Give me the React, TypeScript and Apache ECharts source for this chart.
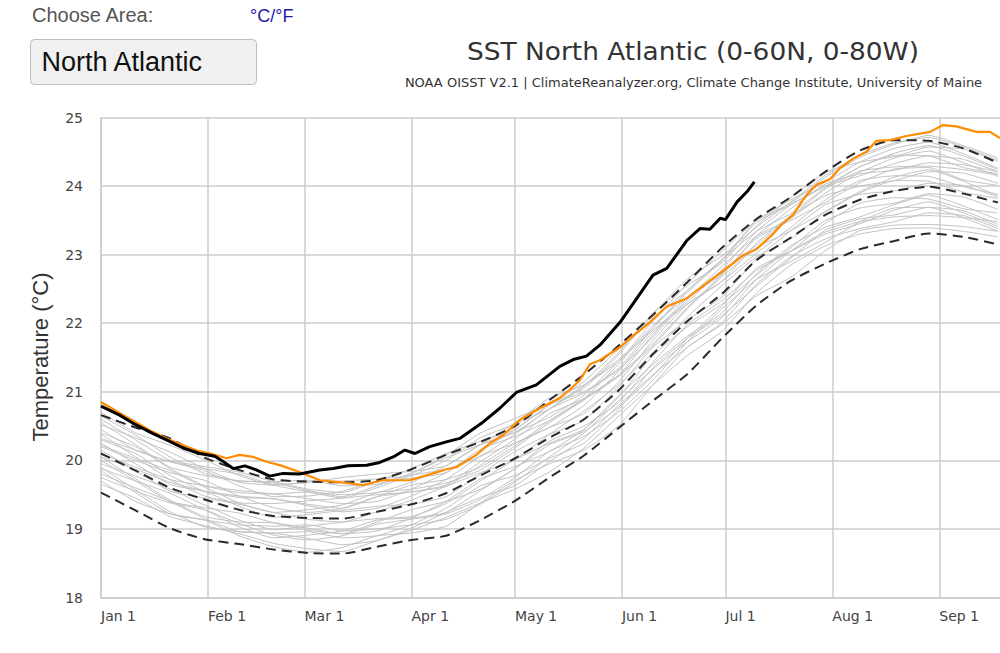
import React, { useEffect, useRef } from "react";
import * as echarts from "echarts";

// ---- axis ticks (day of year, 0 = Jan 1) ----
const monthDays = [0, 31, 59, 90, 120, 151, 181, 212, 243];
const monthLabels = ["Jan 1", "Feb 1", "Mar 1", "Apr 1", "May 1", "Jun 1", "Jul 1", "Aug 1", "Sep 1"];

// ---- climatology (sampled every 10 days) ----
const sampleDays = [0, 10, 20, 30, 40, 50, 60, 70, 80, 90, 100, 110, 120, 130, 140, 150, 160, 170, 180, 190, 200, 210, 220, 230, 240, 250, 260];
const meanSST = [20.10, 19.85, 19.60, 19.43, 19.28, 19.19, 19.16, 19.15, 19.25, 19.36, 19.52, 19.78, 20.03, 20.33, 20.60, 21.02, 21.55, 22.03, 22.43, 22.92, 23.25, 23.58, 23.80, 23.93, 23.99, 23.89, 23.76];
const plus2sd = [20.66, 20.48, 20.32, 20.04, 19.86, 19.72, 19.69, 19.68, 19.71, 19.87, 20.08, 20.27, 20.50, 20.88, 21.25, 21.67, 22.12, 22.60, 23.10, 23.52, 23.84, 24.21, 24.52, 24.67, 24.66, 24.55, 24.34];
const minus2sd = [19.53, 19.27, 19.01, 18.85, 18.78, 18.70, 18.65, 18.64, 18.74, 18.84, 18.90, 19.13, 19.41, 19.75, 20.07, 20.47, 20.87, 21.26, 21.78, 22.26, 22.62, 22.87, 23.08, 23.20, 23.31, 23.26, 23.15];

// ---- past years (grey), sampled every 10 days ----
const pastA = [19.65, 19.45, 19.18, 19.05, 18.93, 18.79, 18.71, 18.67, 18.83, 18.98, 19.17, 19.38, 19.58, 19.83, 20.18, 20.64, 21.10, 21.53, 21.88, 22.44, 22.85, 23.13, 23.30, 23.38, 23.39, 23.34, 23.26];
const pastB = [19.80, 19.60, 19.40, 19.15, 18.96, 18.94, 18.96, 18.87, 18.90, 19.06, 19.30, 19.63, 19.78, 20.03, 20.25, 20.74, 21.35, 21.78, 22.11, 22.54, 22.95, 23.36, 23.52, 23.58, 23.69, 23.64, 23.44];
const pastC = [20.00, 19.70, 19.40, 19.31, 19.23, 19.09, 18.98, 18.93, 19.10, 19.28, 19.40, 19.58, 19.88, 20.28, 20.50, 20.84, 21.43, 21.98, 22.33, 22.77, 23.05, 23.46, 23.75, 23.83, 23.81, 23.67, 23.61];
const pastD = [20.15, 19.85, 19.55, 19.45, 19.36, 19.24, 19.14, 19.10, 19.25, 19.42, 19.62, 19.82, 20.01, 20.38, 20.72, 21.10, 21.57, 22.09, 22.55, 22.97, 23.23, 23.62, 23.90, 24.08, 24.07, 23.91, 23.82];
const pastE = [20.30, 20.10, 19.78, 19.55, 19.46, 19.44, 19.36, 19.30, 19.47, 19.64, 19.72, 19.90, 20.21, 20.58, 20.90, 21.24, 21.70, 22.23, 22.71, 23.24, 23.50, 23.76, 24.05, 24.25, 24.27, 24.09, 24.01];
const pastF = [20.45, 20.15, 19.98, 19.85, 19.63, 19.47, 19.48, 19.55, 19.70, 19.74, 19.82, 20.13, 20.45, 20.81, 21.00, 21.34, 21.93, 22.48, 22.93, 23.34, 23.60, 23.98, 24.28, 24.45, 24.44, 24.27, 24.18];
const pastG = [20.60, 20.30, 20.00, 19.91, 19.83, 19.69, 19.58, 19.53, 19.70, 19.88, 20.10, 20.28, 20.45, 20.81, 21.15, 21.62, 22.07, 22.48, 22.93, 23.50, 23.80, 24.06, 24.35, 24.55, 24.64, 24.47, 24.26];
const pastH = [19.90, 19.57, 19.25, 19.03, 18.96, 18.94, 18.86, 18.77, 18.83, 19.01, 19.24, 19.46, 19.63, 19.98, 20.32, 20.80, 21.25, 21.65, 22.01, 22.57, 22.97, 23.23, 23.38, 23.48, 23.61, 23.57, 23.38];
const pastI = [20.20, 20.00, 19.82, 19.71, 19.48, 19.31, 19.24, 19.30, 19.47, 19.54, 19.62, 19.93, 20.25, 20.48, 20.68, 21.14, 21.75, 22.28, 22.61, 23.02, 23.40, 23.80, 24.08, 24.15, 24.14, 23.99, 23.88];
const pastJ = [19.75, 19.55, 19.38, 19.28, 19.08, 18.91, 18.84, 18.90, 19.07, 19.14, 19.22, 19.43, 19.75, 20.13, 20.35, 20.70, 21.17, 21.73, 22.21, 22.64, 22.90, 23.18, 23.48, 23.68, 23.69, 23.54, 23.34];
const pastK = [20.38, 20.05, 19.72, 19.48, 19.38, 19.37, 19.41, 19.45, 19.50, 19.54, 19.64, 19.98, 20.31, 20.68, 20.90, 21.24, 21.83, 22.38, 22.73, 23.14, 23.55, 23.96, 24.22, 24.28, 24.29, 24.24, 24.16];
const pastL = [20.05, 19.87, 19.68, 19.55, 19.33, 19.17, 19.21, 19.27, 19.33, 19.36, 19.47, 19.80, 20.13, 20.38, 20.58, 21.07, 21.65, 22.05, 22.38, 22.94, 23.35, 23.73, 23.88, 23.93, 24.04, 24.01, 23.84];
const pastM = [20.52, 20.33, 20.12, 19.88, 19.68, 19.64, 19.68, 19.70, 19.73, 19.78, 20.00, 20.33, 20.53, 20.75, 21.08, 21.57, 22.15, 22.55, 22.88, 23.42, 23.83, 24.20, 24.35, 24.43, 24.57, 24.54, 24.36];
const pastN = [19.95, 19.77, 19.58, 19.35, 19.13, 18.99, 19.04, 19.10, 19.15, 19.18, 19.37, 19.70, 20.01, 20.25, 20.45, 20.92, 21.53, 21.95, 22.28, 22.70, 23.10, 23.50, 23.68, 23.75, 23.89, 23.84, 23.66];
const pastO = [20.25, 19.95, 19.65, 19.55, 19.48, 19.44, 19.34, 19.25, 19.30, 19.48, 19.72, 20.06, 20.25, 20.48, 20.80, 21.30, 21.87, 22.28, 22.61, 23.17, 23.57, 23.86, 24.00, 24.08, 24.21, 24.19, 24.04];
const pastP = [20.65, 20.37, 20.05, 19.81, 19.70, 19.69, 19.71, 19.63, 19.65, 19.81, 20.07, 20.40, 20.61, 20.83, 21.05, 21.54, 22.13, 22.65, 22.98, 23.40, 23.77, 24.16, 24.45, 24.63, 24.71, 24.57, 24.38];
const pastQ = [19.85, 19.53, 19.22, 19.13, 19.06, 19.04, 19.06, 18.97, 19.00, 19.06, 19.14, 19.36, 19.68, 20.05, 20.40, 20.87, 21.33, 21.73, 22.08, 22.64, 23.05, 23.33, 23.48, 23.55, 23.57, 23.54, 23.48];
const pastR = [20.10, 19.90, 19.72, 19.63, 19.56, 19.51, 19.44, 19.37, 19.40, 19.58, 19.82, 20.16, 20.35, 20.58, 20.90, 21.40, 21.97, 22.38, 22.71, 23.27, 23.67, 24.03, 24.18, 24.23, 24.34, 24.31, 24.21];
const pastS = [20.70, 20.40, 20.22, 20.01, 19.78, 19.64, 19.68, 19.75, 19.80, 19.84, 19.92, 20.23, 20.55, 20.91, 21.10, 21.44, 22.03, 22.58, 23.05, 23.50, 23.75, 24.13, 24.42, 24.61, 24.74, 24.59, 24.41];
const pastT = [19.70, 19.40, 19.22, 19.13, 18.90, 18.74, 18.66, 18.73, 18.90, 18.94, 19.04, 19.38, 19.71, 19.95, 20.15, 20.50, 21.10, 21.65, 21.98, 22.40, 22.67, 23.06, 23.35, 23.43, 23.44, 23.41, 23.34];
const pastU = [20.40, 20.20, 19.88, 19.63, 19.53, 19.51, 19.54, 19.50, 19.53, 19.68, 19.92, 20.23, 20.41, 20.63, 20.95, 21.44, 21.90, 22.31, 22.78, 23.34, 23.73, 24.00, 24.15, 24.33, 24.44, 24.39, 24.21];
const pastV = [20.05, 19.73, 19.42, 19.18, 19.10, 19.09, 19.01, 18.93, 18.97, 19.16, 19.40, 19.73, 19.91, 20.13, 20.45, 20.94, 21.40, 21.81, 22.15, 22.72, 23.13, 23.40, 23.55, 23.73, 23.87, 23.71, 23.51];
const pastW = [20.55, 20.23, 19.90, 19.78, 19.70, 19.67, 19.56, 19.47, 19.63, 19.81, 20.04, 20.23, 20.41, 20.75, 21.10, 21.47, 21.93, 22.45, 22.91, 23.47, 23.73, 24.00, 24.28, 24.48, 24.59, 24.44, 24.24];
const pastX = [20.22, 20.03, 19.85, 19.61, 19.38, 19.24, 19.28, 19.35, 19.53, 19.58, 19.67, 19.86, 20.18, 20.55, 20.88, 21.22, 21.67, 22.21, 22.68, 23.10, 23.35, 23.63, 23.92, 24.13, 24.24, 24.07, 23.86];
const pastY = [19.88, 19.70, 19.52, 19.28, 19.03, 18.87, 18.91, 18.97, 19.13, 19.16, 19.24, 19.56, 19.88, 20.23, 20.42, 20.77, 21.23, 21.78, 22.25, 22.80, 23.05, 23.30, 23.45, 23.65, 23.77, 23.61, 23.41];
const pastZ = [20.32, 20.15, 19.98, 19.88, 19.80, 19.64, 19.54, 19.45, 19.60, 19.78, 19.87, 20.06, 20.38, 20.75, 20.98, 21.32, 21.80, 22.35, 22.83, 23.27, 23.53, 23.90, 24.20, 24.41, 24.51, 24.34, 24.14];
const pastYears = [pastA, pastB, pastC, pastD, pastE, pastF, pastG, pastH, pastI, pastJ, pastK, pastL, pastM, pastN, pastO, pastP, pastQ, pastR, pastS, pastT, pastU, pastV, pastW, pastX, pastY, pastZ];

// ---- 2022 (orange) ----
const days2022 = [0, 5.4, 14.1, 19, 23.8, 28.6, 32.5, 36.4, 40.2, 44.1, 48, 51.8, 57.6, 63.4, 67.3, 71.2, 76, 81.8, 89.5, 96.3, 100.1, 103, 108.8, 112.7, 116.6, 121.4, 127.2, 133, 135.9, 138.8, 141.7, 144.6, 150.4, 154.3, 158.6, 163.9, 169.7, 176.5, 181.3, 186.1, 190, 194.8, 197.3, 200.6, 204.5, 207.4, 211.3, 214.2, 218, 221.9, 224.8, 228.7, 233.5, 240.3, 244.1, 247.9, 253.8, 257.7, 260.6];
const sst2022 = [20.85, 20.69, 20.44, 20.32, 20.22, 20.13, 20.09, 20.03, 20.08, 20.05, 19.98, 19.93, 19.83, 19.71, 19.69, 19.67, 19.64, 19.71, 19.71, 19.81, 19.87, 19.90, 20.08, 20.25, 20.37, 20.59, 20.76, 20.91, 21.03, 21.17, 21.40, 21.46, 21.65, 21.82, 21.99, 22.24, 22.36, 22.62, 22.80, 22.99, 23.08, 23.30, 23.44, 23.58, 23.87, 24.02, 24.10, 24.26, 24.40, 24.50, 24.66, 24.67, 24.73, 24.79, 24.89, 24.87, 24.79, 24.79, 24.70];

// ---- 2023 (black) ----
const days2023 = [0, 5.4, 9.3, 15.1, 19, 23.8, 28.6, 33, 35.5, 38.3, 41.7, 45, 48.9, 52.8, 57.6, 63.4, 67.3, 71.6, 77, 80.8, 84.7, 88.1, 91, 95.3, 100.1, 104, 110.8, 115.6, 120.4, 126.2, 133, 136.9, 140.7, 144.6, 150.4, 154.3, 160, 164, 169.9, 173.6, 176.5, 179.5, 181, 184.4, 187.3, 189.4];
const sst2023 = [20.79, 20.66, 20.54, 20.39, 20.30, 20.18, 20.10, 20.06, 19.98, 19.88, 19.92, 19.86, 19.77, 19.81, 19.80, 19.86, 19.88, 19.92, 19.93, 19.97, 20.05, 20.15, 20.10, 20.20, 20.27, 20.32, 20.56, 20.76, 20.99, 21.10, 21.37, 21.47, 21.52, 21.68, 22.01, 22.29, 22.70, 22.80, 23.21, 23.38, 23.37, 23.53, 23.51, 23.77, 23.92, 24.06];

const zip = (xs: number[], ys: number[]) => xs.map((x, i) => [x, ys[i]]);

export default function App() {
  const ref = useRef<HTMLDivElement>(null);

  useEffect(() => {
    if (!ref.current) return;
    const chart = echarts.init(ref.current, undefined, { renderer: "svg" });

    const greySeries = pastYears.map((ys, i) => ({
      name: "past" + i,
      type: "line",
      data: zip(sampleDays, ys),
      symbol: "none",
      smooth: 0.15,
      silent: true,
      lineStyle: { color: "#c2c2c2", width: 1 },
      z: 1,
    }));

    const dashed = (name: string, ys: number[]) => ({
      name,
      type: "line",
      data: zip(sampleDays, ys),
      symbol: "none",
      smooth: 0.2,
      silent: true,
      lineStyle: { color: "#2a2a2a", width: 2, type: [10, 6] },
      z: 3,
    });

    chart.setOption({
      animation: false,
      backgroundColor: "#ffffff",
      grid: { left: 101, top: 117.5, right: 0, bottom: 55.5 },
      xAxis: {
        type: "value",
        min: 0,
        max: 260.6,
        axisLine: { show: true, lineStyle: { color: "#cccccc", width: 1.5 } },
        axisTick: { show: false, customValues: monthDays },
        splitLine: { show: true, lineStyle: { color: "#cccccc", width: 1.5 } },
        axisLabel: {
          customValues: monthDays,
          formatter: (v: number) => monthLabels[monthDays.indexOf(Math.round(v))] ?? "",
          align: "left",
          margin: 11,
          color: "#444",
          fontSize: 14,
          fontFamily: "DejaVu Sans",
        },
      },
      yAxis: {
        type: "value",
        min: 18,
        max: 25,
        interval: 1,
        axisLine: { show: true, lineStyle: { color: "#cccccc", width: 1.5 } },
        axisTick: { show: false },
        splitLine: { show: true, lineStyle: { color: "#cccccc", width: 1.5 } },
        axisLabel: { margin: 18, color: "#444", fontSize: 14, fontFamily: "DejaVu Sans" },
      },
      graphic: [
        { type: "text", x: 32, y: 15, style: { text: "Choose Area:", font: '20px "Liberation Sans"', fill: "#555", verticalAlign: "middle", align: "left" } },
        { type: "text", x: 250, y: 16, style: { text: "°C/°F", font: '18px "Liberation Sans"', fill: "#1c1cb0", verticalAlign: "middle", align: "left" } },
        { type: "rect", shape: { x: 30.5, y: 39.5, width: 226, height: 45, r: 4 }, style: { fill: "#f0f0f0", stroke: "#bdbdbd", lineWidth: 1 } },
        { type: "text", x: 41.5, y: 61.5, style: { text: "North Atlantic", font: '27px "Liberation Sans"', fill: "#111", verticalAlign: "middle", align: "left" } },
        { type: "text", x: 693, y: 52, scaleX: 1.1, style: { text: "SST North Atlantic (0-60N, 0-80W)", font: '24px "DejaVu Sans"', fill: "#333", verticalAlign: "middle", align: "center" } },
        { type: "text", x: 693.5, y: 82.5, style: { text: "NOAA OISST V2.1 | ClimateReanalyzer.org, Climate Change Institute, University of Maine", font: '13px "DejaVu Sans"', fill: "#333", verticalAlign: "middle", align: "center" } },
        { type: "text", x: 40, y: 357, rotation: Math.PI / 2, style: { text: "Temperature (°C)", font: '22px "Liberation Sans"', fill: "#333", verticalAlign: "middle", align: "center" } },
      ],
      series: [
        ...greySeries,
        dashed("+2σ", plus2sd),
        dashed("mean", meanSST),
        dashed("-2σ", minus2sd),
        {
          name: "2022",
          type: "line",
          data: zip(days2022, sst2022),
          symbol: "none",
          silent: true,
          lineStyle: { color: "#ff8c00", width: 2.2 },
          z: 4,
        },
        {
          name: "2023",
          type: "line",
          data: zip(days2023, sst2023),
          symbol: "none",
          silent: true,
          lineStyle: { color: "#000000", width: 3 },
          z: 5,
        },
      ],
    });

    return () => chart.dispose();
  }, []);

  return (
    <div style={{ position: "absolute", left: 0, top: 0, width: 1000, height: 653, background: "#fff" }}>
      <div ref={ref} style={{ width: 1000, height: 653 }} />
    </div>
  );
}
